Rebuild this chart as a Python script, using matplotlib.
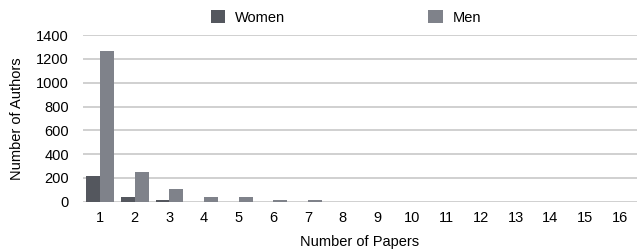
import matplotlib
matplotlib.use("Agg")
import matplotlib.pyplot as plt
import numpy as np

papers = list(range(1, 17))
women = [217, 37, 14, 0, 0, 0, 0, 0, 0, 0, 0, 0, 0, 0, 0, 0]
men = [1268, 253, 105, 40, 36, 12, 12, 0, 0, 0, 0, 0, 0, 0, 0, 0]
yticks = [0, 200, 400, 600, 800, 1000, 1200, 1400]

plt.rcParams['font.family'] = ['Liberation Sans', 'DejaVu Sans']
fig = plt.figure(figsize=(6.37, 2.49), dpi=100)
ax = fig.add_axes([0.130, 0.190, 0.870, 0.669])

x = np.arange(len(papers))
w = 0.4
ax.bar(x - w/2, women, width=w, color='#54575e', label='Women', zorder=3)
ax.bar(x + w/2, men, width=w, color='#7f828a', label='Men', zorder=3)

ax.set_xlim(-0.5, len(papers) - 0.5)
ax.set_ylim(0, 1400)
ax.set_yticks(yticks)
ax.set_yticklabels([str(v) for v in yticks], fontsize=10.5)
ax.set_xticks(x)
ax.set_xticklabels([str(p) for p in papers], fontsize=10.5)
ax.tick_params(length=0, pad=7)
ax.tick_params(axis='y', pad=10)
ax.yaxis.grid(True, color='#c8c8c8', linewidth=1.2, zorder=0)
for s in ax.spines.values():
    s.set_visible(False)

ax.set_xlabel('Number of Papers', fontsize=10.5, labelpad=7)
ax.set_ylabel('Number of Authors', fontsize=10.5, labelpad=9)

fig.legend(loc='upper left', bbox_to_anchor=(0.31, 1.012), ncol=2, frameon=False,
           fontsize=10.5, handlelength=1.0, handleheight=1.0, columnspacing=9.8,
           handletextpad=0.7)

fig.savefig('out.png', dpi=100)
